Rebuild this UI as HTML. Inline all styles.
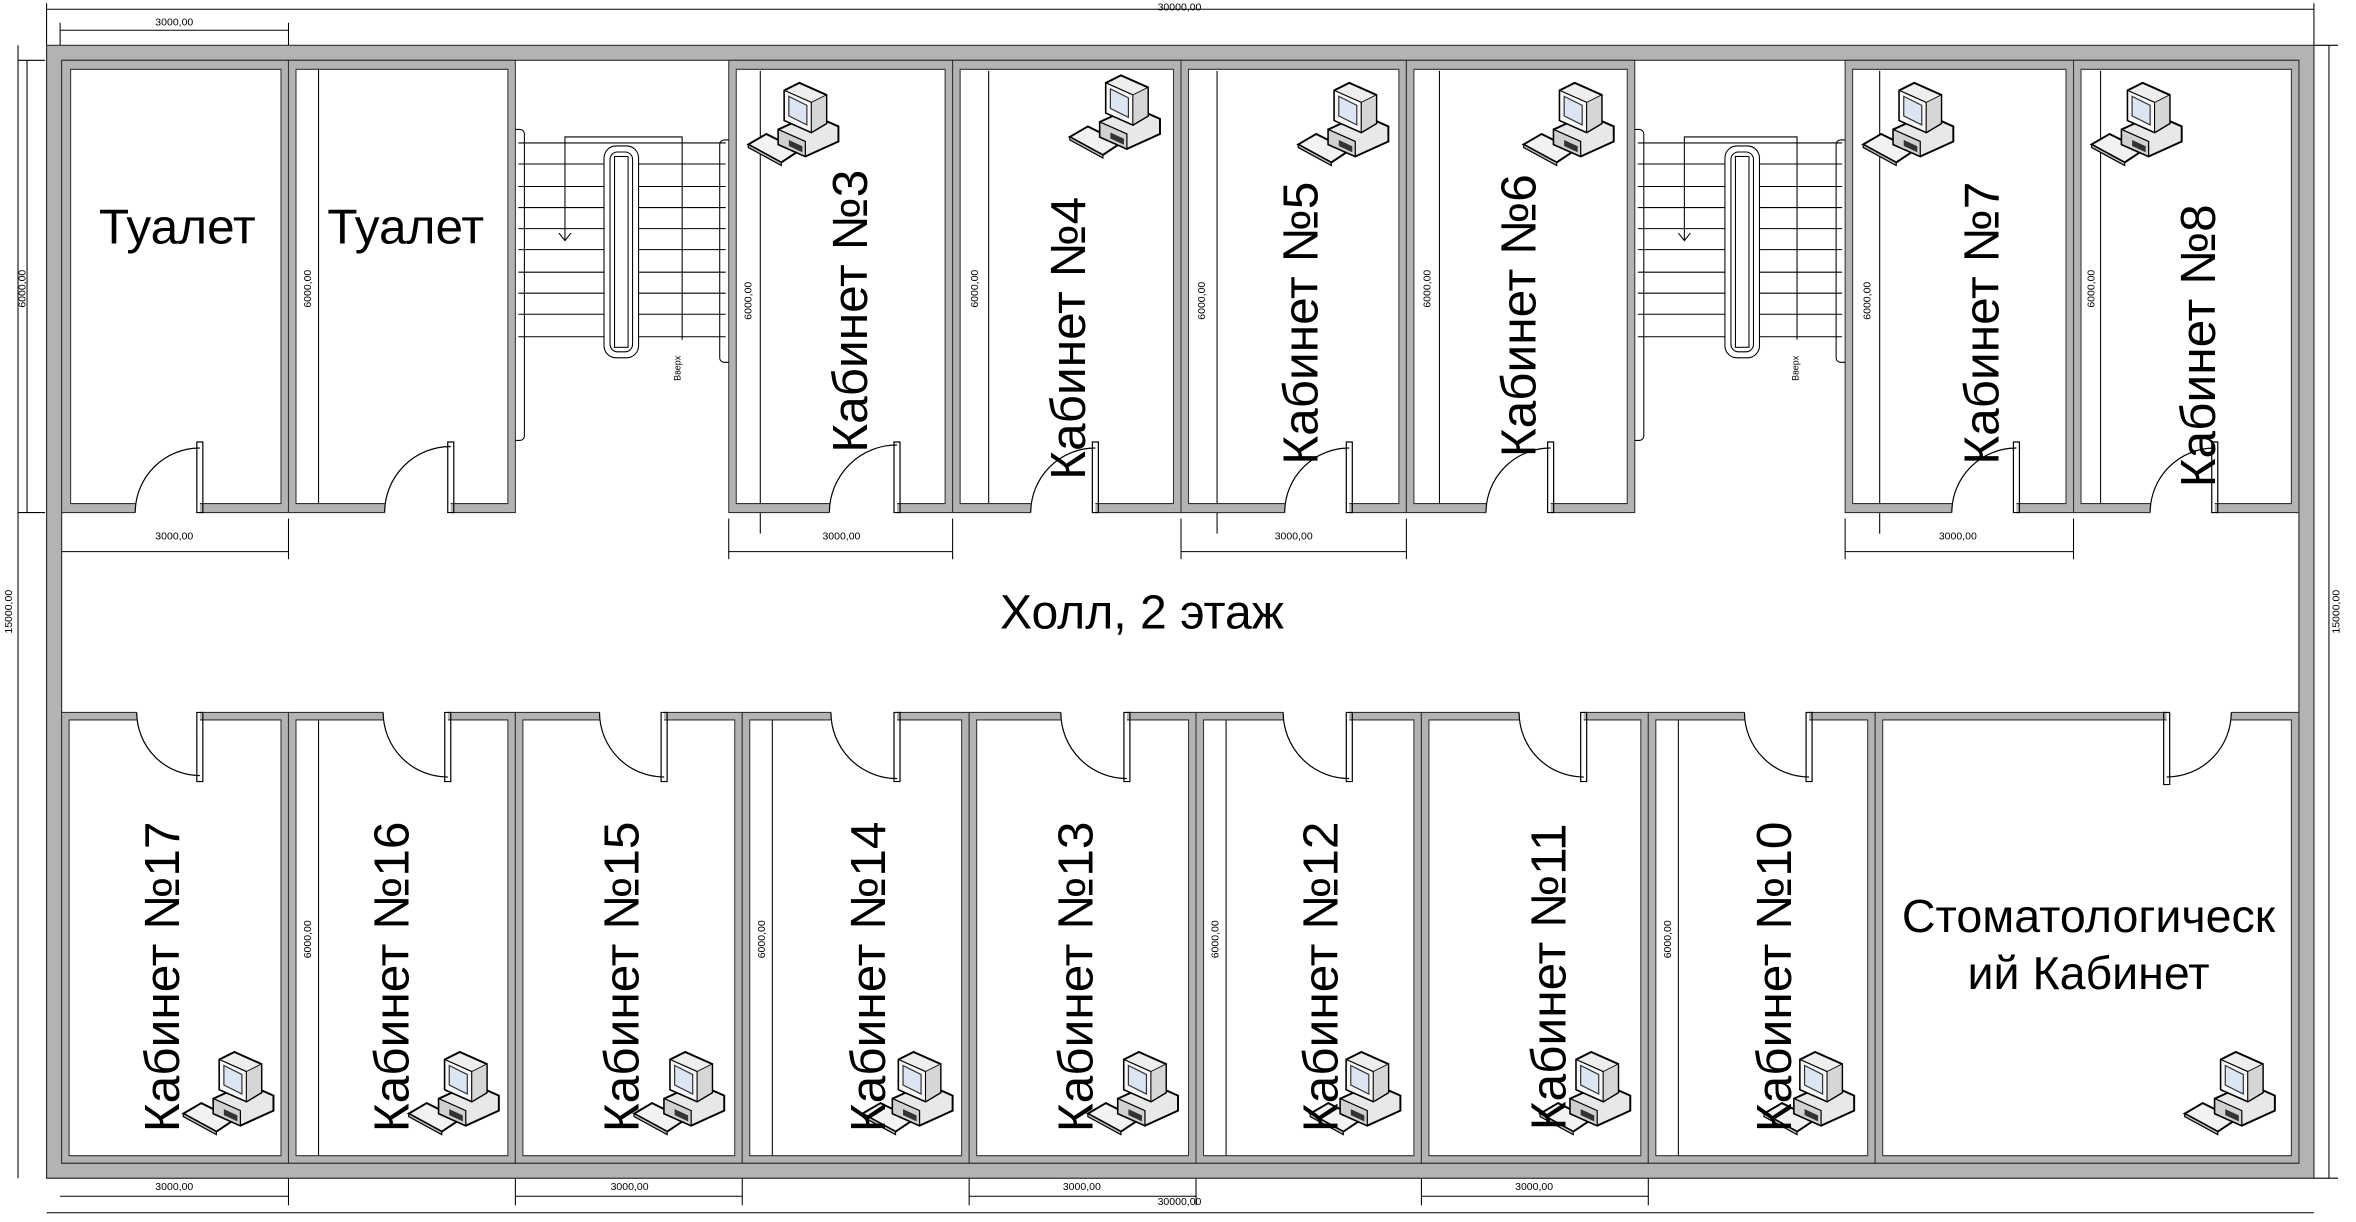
<!DOCTYPE html>
<html><head><meta charset="utf-8"><style>
html,body{margin:0;padding:0;background:#fff;}
svg{display:block;}
text{font-family:"Liberation Sans",sans-serif;fill:#000;}
.d{font-size:7px;}
</style></head><body>
<svg width="2356" height="1222" viewBox="0 0 1568 813" xmlns="http://www.w3.org/2000/svg">
<defs>
<g id="pc">
  <polygon points="2,44 14,37 36,48 24,56" fill="#f2f2f2" stroke="#000" stroke-width="1.3"/>
  <polygon points="2,44 24,56 24,58 2,46" fill="#bbb" stroke="#000" stroke-width="0.8"/>
  <polygon points="22,34 44,24 62,32 62,42 40,52 22,44" fill="#e8e8e8" stroke="#000" stroke-width="1.3"/>
  <polygon points="22,34 40,42 40,52 22,44" fill="#d0d0d0" stroke="#000" stroke-width="0.8"/>
  <rect x="29" y="41" width="9" height="4" fill="#333" transform="skewY(25)" transform-origin="29 41"/>
  <polygon points="26,8 36,3 54,11 54,30 44,36 26,28" fill="#eee" stroke="#000" stroke-width="1.3"/>
  <polygon points="26,8 44,16 44,36 26,28" fill="#f7f7f7" stroke="#000" stroke-width="0.8"/>
  <polygon points="29,12 41,18 41,31 29,25" fill="#dbe6f2" stroke="#333" stroke-width="0.8"/>
  <polygon points="44,16 54,11 54,30 44,36" fill="#d6d6d6" stroke="#000" stroke-width="0.6"/>
</g>
</defs>

<g stroke="#000" stroke-width="0.7" fill="none">
  <line x1="31" y1="6" x2="1540" y2="6"/>
  <line x1="31" y1="2" x2="31" y2="30"/><line x1="1540" y1="2" x2="1540" y2="30"/>
  <line x1="40" y1="20" x2="192" y2="20"/>
  <line x1="40" y1="15" x2="40" y2="30"/><line x1="192" y1="15" x2="192" y2="30"/>
  <line x1="40" y1="367" x2="192" y2="367"/><line x1="192" y1="345" x2="192" y2="372"/>
  <line x1="485" y1="367" x2="634" y2="367"/><line x1="485" y1="345" x2="485" y2="372"/><line x1="634" y1="345" x2="634" y2="372"/>
  <line x1="786" y1="367" x2="936" y2="367"/><line x1="786" y1="345" x2="786" y2="372"/><line x1="936" y1="345" x2="936" y2="372"/>
  <line x1="1228" y1="367" x2="1380" y2="367"/><line x1="1228" y1="345" x2="1228" y2="372"/><line x1="1380" y1="345" x2="1380" y2="372"/>
  <line x1="40" y1="796" x2="192" y2="796"/><line x1="192" y1="784" x2="192" y2="802"/>
  <line x1="343" y1="796" x2="494" y2="796"/><line x1="343" y1="784" x2="343" y2="802"/><line x1="494" y1="784" x2="494" y2="802"/>
  <line x1="645" y1="796" x2="796" y2="796"/><line x1="645" y1="784" x2="645" y2="802"/><line x1="796" y1="784" x2="796" y2="802"/>
  <line x1="946" y1="796" x2="1097" y2="796"/><line x1="946" y1="784" x2="946" y2="802"/><line x1="1097" y1="784" x2="1097" y2="802"/>
  <line x1="31" y1="807" x2="1540" y2="807"/>
  <line x1="18" y1="40" x2="18" y2="341"/><line x1="12" y1="40" x2="30" y2="40"/><line x1="12" y1="341" x2="30" y2="341"/>
  <line x1="12" y1="30" x2="12" y2="784"/>
  <line x1="1550" y1="30" x2="1550" y2="784"/>
  <line x1="1540" y1="30" x2="1556" y2="30"/><line x1="1540" y1="784" x2="1556" y2="784"/>
  <line x1="212" y1="45" x2="212" y2="337"/>
  <line x1="506" y1="47" x2="506" y2="355"/>
  <line x1="658" y1="47" x2="658" y2="337"/>
  <line x1="810" y1="47" x2="810" y2="355"/>
  <line x1="958" y1="47" x2="958" y2="337"/>
  <line x1="1251" y1="47" x2="1251" y2="355"/>
  <line x1="1398" y1="47" x2="1398" y2="337"/>
  <line x1="212" y1="478" x2="212" y2="770"/>
  <line x1="514" y1="478" x2="514" y2="770"/>
  <line x1="816" y1="478" x2="816" y2="770"/>
  <line x1="1117" y1="478" x2="1117" y2="770"/>
</g>
<g class="d">
  <text x="785" y="7" text-anchor="middle">30000,00</text>
  <text x="116" y="17" text-anchor="middle">3000,00</text>
  <text x="116" y="359" text-anchor="middle">3000,00</text>
  <text x="560" y="359" text-anchor="middle">3000,00</text>
  <text x="861" y="359" text-anchor="middle">3000,00</text>
  <text x="1303" y="359" text-anchor="middle">3000,00</text>
  <text x="116" y="792" text-anchor="middle">3000,00</text>
  <text x="419" y="792" text-anchor="middle">3000,00</text>
  <text x="720" y="792" text-anchor="middle">3000,00</text>
  <text x="1021" y="792" text-anchor="middle">3000,00</text>
  <text x="785" y="802" text-anchor="middle">30000,00</text>
  <text transform="translate(17,192) rotate(-90)" text-anchor="middle">6000,00</text>
  <text transform="translate(8,407) rotate(-90)" text-anchor="middle">15000,00</text>
  <text transform="translate(1557,407) rotate(-90)" text-anchor="middle">15000,00</text>
  <text transform="translate(207,192) rotate(-90)" text-anchor="middle">6000,00</text>
  <text transform="translate(500,200) rotate(-90)" text-anchor="middle">6000,00</text>
  <text transform="translate(651,192) rotate(-90)" text-anchor="middle">6000,00</text>
  <text transform="translate(802,200) rotate(-90)" text-anchor="middle">6000,00</text>
  <text transform="translate(952,192) rotate(-90)" text-anchor="middle">6000,00</text>
  <text transform="translate(1245,200) rotate(-90)" text-anchor="middle">6000,00</text>
  <text transform="translate(1394,192) rotate(-90)" text-anchor="middle">6000,00</text>
  <text transform="translate(207,625) rotate(-90)" text-anchor="middle">6000,00</text>
  <text transform="translate(509,625) rotate(-90)" text-anchor="middle">6000,00</text>
  <text transform="translate(811,625) rotate(-90)" text-anchor="middle">6000,00</text>
  <text transform="translate(1112,625) rotate(-90)" text-anchor="middle">6000,00</text>
</g>

<path d="M31,30 H1540 V784 H31 Z M41,40 V774 H1530 V40 Z" fill="#b3b3b3" fill-rule="evenodd" stroke="#333" stroke-width="0.8"/>

<g fill="#b3b3b3" stroke="#333" stroke-width="0.7">
  <path fill-rule="evenodd" d="M41,40 H192 V341 H41 Z M47,46 V335 H187 V46 Z"/>
  <path fill-rule="evenodd" d="M192,40 H343 V341 H192 Z M197,46 V335 H338 V46 Z"/>
  <path fill-rule="evenodd" d="M485,40 H634 V341 H485 Z M490,46 V335 H629 V46 Z"/>
  <path fill-rule="evenodd" d="M634,40 H786 V341 H634 Z M639,46 V335 H781 V46 Z"/>
  <path fill-rule="evenodd" d="M786,40 H936 V341 H786 Z M791,46 V335 H931 V46 Z"/>
  <path fill-rule="evenodd" d="M936,40 H1088 V341 H936 Z M941,46 V335 H1083 V46 Z"/>
  <path fill-rule="evenodd" d="M1228,40 H1380 V341 H1228 Z M1233,46 V335 H1375 V46 Z"/>
  <path fill-rule="evenodd" d="M1380,40 H1530 V341 H1380 Z M1385,46 V335 H1525 V46 Z"/>
  <path fill-rule="evenodd" d="M41,474 H192 V774 H41 Z M46,479 V769 H187 V479 Z"/>
  <path fill-rule="evenodd" d="M192,474 H343 V774 H192 Z M197,479 V769 H338 V479 Z"/>
  <path fill-rule="evenodd" d="M343,474 H494 V774 H343 Z M348,479 V769 H489 V479 Z"/>
  <path fill-rule="evenodd" d="M494,474 H645 V774 H494 Z M499,479 V769 H640 V479 Z"/>
  <path fill-rule="evenodd" d="M645,474 H796 V774 H645 Z M650,479 V769 H791 V479 Z"/>
  <path fill-rule="evenodd" d="M796,474 H946 V774 H796 Z M801,479 V769 H941 V479 Z"/>
  <path fill-rule="evenodd" d="M946,474 H1097 V774 H946 Z M951,479 V769 H1092 V479 Z"/>
  <path fill-rule="evenodd" d="M1097,474 H1248 V774 H1097 Z M1102,479 V769 H1243 V479 Z"/>
  <path fill-rule="evenodd" d="M1248,474 H1530 V774 H1248 Z M1253,479 V769 H1525 V479 Z"/>
</g>

<g fill="#fff" stroke="none">
  <rect x="90" y="334" width="43" height="8"/>
  <rect x="256" y="334" width="44" height="8"/>
  <rect x="552" y="334" width="45" height="8"/>
  <rect x="686" y="334" width="43" height="8"/>
  <rect x="855" y="334" width="43" height="8"/>
  <rect x="989" y="334" width="43" height="8"/>
  <rect x="1299" y="334" width="43" height="8"/>
  <rect x="1431" y="334" width="43" height="8"/>
  <rect x="91" y="473" width="42" height="8"/>
  <rect x="255" y="473" width="43" height="8"/>
  <rect x="399" y="473" width="43" height="8"/>
  <rect x="553" y="473" width="44" height="8"/>
  <rect x="706" y="473" width="44" height="8"/>
  <rect x="854" y="473" width="44" height="8"/>
  <rect x="1011" y="473" width="43" height="8"/>
  <rect x="1161" y="473" width="43" height="8"/>
  <rect x="1442" y="473" width="43" height="8"/>
</g>
<g stroke="#000" stroke-width="0.8" fill="none">
  <path d="M90,341 A43,43 0 0 1 133,298 M131,294 H135 V341 H131 Z"/>
  <path d="M256,341 A44,44 0 0 1 300,297 M298,294 H302 V341 H298 Z"/>
  <path d="M552,341 A45,45 0 0 1 597,296 M595,294 H599 V341 H595 Z"/>
  <path d="M686,341 A43,43 0 0 1 729,298 M727,294 H731 V341 H727 Z"/>
  <path d="M855,341 A43,43 0 0 1 898,298 M896,294 H900 V341 H896 Z"/>
  <path d="M989,341 A43,43 0 0 1 1032,298 M1030,294 H1034 V341 H1030 Z"/>
  <path d="M1299,341 A43,43 0 0 1 1342,298 M1340,294 H1344 V341 H1340 Z"/>
  <path d="M1431,341 A43,43 0 0 1 1474,298 M1472,294 H1476 V341 H1472 Z"/>
  <path d="M91,474 A42,42 0 0 0 133,516 M131,474 H135 V520 H131 Z"/>
  <path d="M255,474 A43,43 0 0 0 298,517 M296,474 H300 V520 H296 Z"/>
  <path d="M399,474 A43,43 0 0 0 442,517 M440,474 H444 V520 H440 Z"/>
  <path d="M553,474 A44,44 0 0 0 597,518 M595,474 H599 V520 H595 Z"/>
  <path d="M706,474 A44,44 0 0 0 750,518 M748,474 H752 V520 H748 Z"/>
  <path d="M854,474 A44,44 0 0 0 898,518 M896,474 H900 V520 H896 Z"/>
  <path d="M1011,474 A43,43 0 0 0 1054,517 M1052,474 H1056 V520 H1052 Z"/>
  <path d="M1161,474 A43,43 0 0 0 1204,517 M1202,474 H1206 V520 H1202 Z"/>
  <path d="M1485,474 A43,43 0 0 1 1442,517 M1440,474 H1444 V522 H1440 Z"/>
</g>

<g stroke="#000" stroke-width="0.7" fill="none">
  <path d="M345,95 H483 M345,109 H483 M345,124 H483 M345,138 H483 M345,152 H483 M345,166 H483 M345,181 H483 M345,195 H483 M345,209 H483 M345,224 H483"/>
  <rect x="402" y="97" width="23" height="141" rx="8" fill="#fff"/>
  <rect x="406" y="101" width="15" height="133" rx="5"/>
  <rect x="409" y="104" width="9" height="127" fill="#fff"/>
  <path d="M343,86 h3 a3,3 0 0 1 3,3 V290 a3,3 0 0 1 -3,3 h-3"/>
  <path d="M485,93 h-3 a3,3 0 0 0 -3,3 V238 a3,3 0 0 0 3,3 h3"/>
  <path d="M454,226 V91 H376 V160 M372,155 L376,160 L380,155"/>
</g>
<text class="d" transform="translate(453,245) rotate(-90)" text-anchor="middle" style="font-size:6px">Вверх</text>
<g stroke="#000" stroke-width="0.7" fill="none">
  <path d="M1090,95 H1226 M1090,109 H1226 M1090,124 H1226 M1090,138 H1226 M1090,152 H1226 M1090,166 H1226 M1090,181 H1226 M1090,195 H1226 M1090,209 H1226 M1090,224 H1226"/>
  <rect x="1148" y="97" width="23" height="141" rx="8" fill="#fff"/>
  <rect x="1152" y="101" width="15" height="133" rx="5"/>
  <rect x="1155" y="104" width="9" height="127" fill="#fff"/>
  <path d="M1088,86 h3 a3,3 0 0 1 3,3 V290 a3,3 0 0 1 -3,3 h-3"/>
  <path d="M1228,93 h-3 a3,3 0 0 0 -3,3 V238 a3,3 0 0 0 3,3 h3"/>
  <path d="M1196,226 V91 H1121 V160 M1117,155 L1121,160 L1125,155"/>
</g>
<text class="d" transform="translate(1197,245) rotate(-90)" text-anchor="middle" style="font-size:6px">Вверх</text>

<use href="#pc" x="496" y="52"/>
<use href="#pc" x="710" y="47"/>
<use href="#pc" x="862" y="52"/>
<use href="#pc" x="1012" y="52"/>
<use href="#pc" x="1238" y="52"/>
<use href="#pc" x="1390" y="52"/>
<use href="#pc" x="120" y="697"/>
<use href="#pc" x="270" y="697"/>
<use href="#pc" x="420" y="697"/>
<use href="#pc" x="572" y="697"/>
<use href="#pc" x="722" y="697"/>
<use href="#pc" x="870" y="697"/>
<use href="#pc" x="1023" y="697"/>
<use href="#pc" x="1172" y="697"/>
<use href="#pc" x="1452" y="697"/>

<g style="font-size:33px" text-anchor="middle">
  <text x="118" y="162">Туалет</text>
  <text x="270" y="162">Туалет</text>
</g>
<text x="760" y="418" text-anchor="middle" style="font-size:32px">Холл, 2 этаж</text>
<g style="font-size:33px" text-anchor="middle">
  <text transform="translate(577,207) rotate(-90)">Кабинет №3</text>
  <text transform="translate(722,225) rotate(-90)">Кабинет №4</text>
  <text transform="translate(877,215) rotate(-90)">Кабинет №5</text>
  <text transform="translate(1022,210) rotate(-90)">Кабинет №6</text>
  <text transform="translate(1330,215) rotate(-90)">Кабинет №7</text>
  <text transform="translate(1474,230) rotate(-90)">Кабинет №8</text>
  <text transform="translate(119,650) rotate(-90)">Кабинет №17</text>
  <text transform="translate(272,650) rotate(-90)">Кабинет №16</text>
  <text transform="translate(425,650) rotate(-90)">Кабинет №15</text>
  <text transform="translate(589,650) rotate(-90)">Кабинет №14</text>
  <text transform="translate(727,650) rotate(-90)">Кабинет №13</text>
  <text transform="translate(890,650) rotate(-90)">Кабинет №12</text>
  <text transform="translate(1042,650) rotate(-90)">Кабинет №11</text>
  <text transform="translate(1192,650) rotate(-90)">Кабинет №10</text>
</g>
<g style="font-size:31px" text-anchor="middle">
  <text x="1390" y="620">Стоматологическ</text>
  <text x="1390" y="658">ий Кабинет</text>
</g>
</svg>
</body></html>
